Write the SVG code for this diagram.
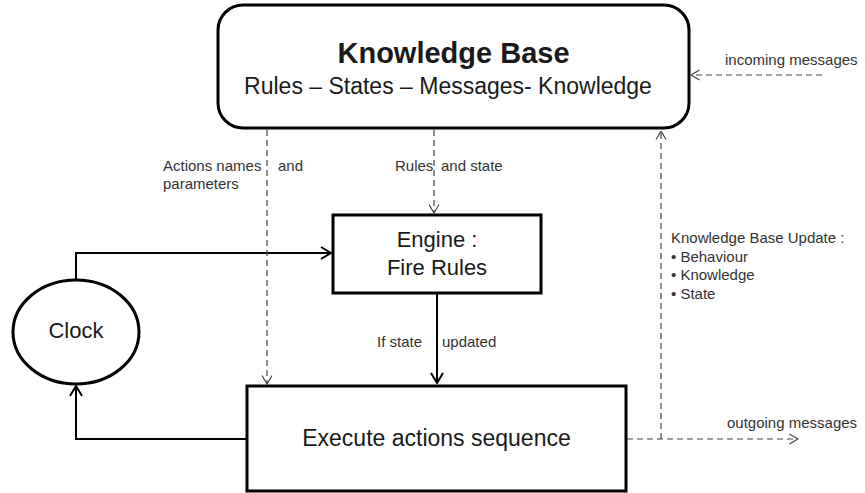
<svg xmlns="http://www.w3.org/2000/svg" width="865" height="493" viewBox="0 0 865 493">
<defs>
<style>
text{font-family:"Liberation Sans",Arial,sans-serif;fill:#1a1a1a}
.box{fill:#fff;stroke:#000;stroke-width:3}
.solid{fill:none;stroke:#000;stroke-width:2}
.dash{fill:none;stroke:#444;stroke-width:1.2;stroke-dasharray:6 4}
.lbl{font-size:15px;fill:#333}
.big{font-size:22px}
</style>
<marker id="ah" markerUnits="userSpaceOnUse" viewBox="0 0 12 14" refX="11" refY="7" markerWidth="12" markerHeight="14" orient="auto">
<path d="M1,1 L11,7 L1,13" fill="none" stroke="#000" stroke-width="2"/>
</marker>
<marker id="ahd" markerUnits="userSpaceOnUse" viewBox="0 0 10 12" refX="9.5" refY="6" markerWidth="10" markerHeight="12" orient="auto">
<path d="M1,1 L9.5,6 L1,11" fill="none" stroke="#444" stroke-width="1.2"/>
</marker>
</defs>
<rect width="865" height="493" fill="#fff"/>
<g id="connectors">
<path class="solid" d="M76,280 V253 H331" marker-end="url(#ah)"/>
<path class="solid" d="M247,439 H76 V386" marker-end="url(#ah)"/>
<path class="solid" d="M437,293 V383" marker-end="url(#ah)"/>
<path class="dash" d="M267,130 V384" marker-end="url(#ahd)"/>
<path class="dash" d="M434,130 V213" marker-end="url(#ahd)"/>
<path class="dash" d="M661,439 V131" marker-end="url(#ahd)"/>
<path class="dash" d="M627,439 H798" marker-end="url(#ahd)"/>
<path class="dash" d="M822,75 H691" marker-end="url(#ahd)"/>
<text class="lbl" x="163" y="171">Actions names<tspan x="278">and</tspan></text>
<text class="lbl" x="163" y="189">parameters</text>
<text class="lbl" x="395" y="171">Rules<tspan x="441">and state</tspan></text>
<text class="lbl" x="377" y="347">If state<tspan x="442">updated</tspan></text>
<text class="lbl" x="725" y="65">incoming messages</text>
<text class="lbl" x="727" y="428">outgoing messages</text>
<g id="kb-update-label">
<text class="lbl" x="671" y="243">Knowledge Base Update :</text>
<text class="lbl" x="671" y="262">• Behaviour</text>
<text class="lbl" x="671" y="280">• Knowledge</text>
<text class="lbl" x="671" y="299">• State</text>
</g>
</g>
<g id="knowledge-base">
<rect class="box" x="218" y="5" width="471" height="123" rx="25" ry="25"/>
<text x="453.5" y="63" text-anchor="middle" font-size="29" font-weight="bold">Knowledge Base</text>
<text x="448" y="94" text-anchor="middle" font-size="23">Rules – States – Messages- Knowledge</text>
</g>
<g id="engine">
<rect class="box" x="333" y="215" width="208" height="78"/>
<text class="big" x="437" y="247" text-anchor="middle">Engine :</text>
<text class="big" x="437" y="275" text-anchor="middle">Fire Rules</text>
</g>
<g id="clock">
<ellipse class="box" cx="76" cy="332" rx="63" ry="52"/>
<text class="big" x="76" y="338" text-anchor="middle">Clock</text>
</g>
<g id="execute">
<rect class="box" x="247" y="386" width="379" height="105"/>
<text x="436.5" y="446" text-anchor="middle" font-size="23">Execute actions sequence</text>
</g>
</svg>
